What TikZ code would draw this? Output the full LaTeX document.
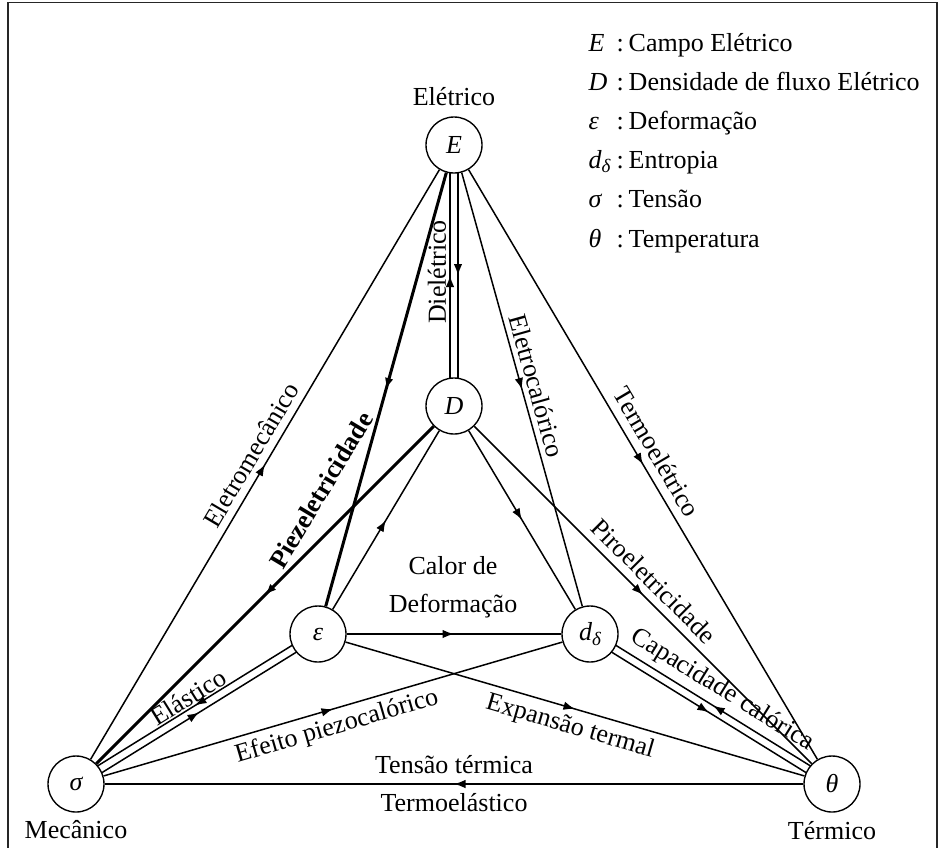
\documentclass[tikz,border=0pt]{standalone}
\usepackage{fontspec}
\setmainfont{Liberation Serif}
\usetikzlibrary{arrows.meta,decorations.markings,calc}

\newcommand\txtfont{\fontsize{10.4}{15}\selectfont}
\newcommand\legsep{:\hspace{2pt}}

\tikzset{
  var/.style={circle, draw, line width=0.55pt, minimum size=22.4pt, inner sep=0pt, font=\txtfont\itshape},
  lab/.style={inner sep=0pt, font=\txtfont},
  boldlab/.style={inner sep=0pt, font=\txtfont\bfseries},
  thinedge/.style={line width=0.6pt},
  thickedge/.style={line width=1.2pt},
  midarrow/.style={postaction={decorate}, decoration={markings,
      mark=at position 0.5 with {\arrow{Latex[length=4.6pt,width=3.4pt]}}}},
  clipends/.style={shorten <=11.1pt, shorten >=11.1pt},
  frameline/.style={line width=0.6pt, black!85},
}

\begin{document}
\begin{tikzpicture}[x=0.4pt, y=-0.4pt]
\useasboundingbox (0,0) rectangle (939,847);

% outer frame (open at the bottom)
\draw[frameline] (8,870) -- (8,2.5) -- (937,2.5) -- (937,870);

% state variables
\node[var] (E)   at (454,145) {E};
\node[var] (D)   at (454,406) {D};
\node[var] (eps) at (318,634) {ε};
\node[var] (ent) at (590,634) {d\raisebox{-0.35ex}{\fontsize{7.6}{8}\selectfont δ}};
\node[var] (sig) at (76,784)  {σ};
\node[var] (th)  at (832,784) {θ};

% domain names
\node[lab] (nElet) at (454,97)  {Elétrico};
\node[lab] (nMec)  at (76,830)  {Mecânico};
\node[lab] (nTer)  at (832,831) {Térmico};

% single couplings
\draw[thinedge, midarrow]  (sig) -- (E);
\draw[thickedge, midarrow] (E) -- (eps);
\draw[thinedge, midarrow]  (E) -- (ent);
\draw[thinedge, midarrow]  (E) -- (th);
\draw[thinedge, midarrow]  (eps) -- (D);
\draw[thickedge, midarrow] (D) -- (sig);
\draw[thinedge, midarrow]  (D) -- (ent);
\draw[thinedge, midarrow]  (D) -- (th);
\draw[thinedge, midarrow]  (eps) -- (ent);
\draw[thinedge, midarrow]  (eps) -- (th);
\draw[thinedge, midarrow]  (sig) -- (ent);
\draw[thinedge, midarrow]  (th) -- (sig);

% paired couplings (two parallel lines, opposite directions)
\draw[thinedge, midarrow, clipends] ($(E)!1.6pt!90:(D)$) -- ($(D)!1.6pt!-90:(E)$);
\draw[thinedge, midarrow, clipends] ($(D)!1.6pt!90:(E)$) -- ($(E)!1.6pt!-90:(D)$);

\draw[thinedge, midarrow, clipends] ($(eps)!1.6pt!-90:(sig)$) -- ($(sig)!1.6pt!90:(eps)$);
\draw[thinedge, midarrow, clipends] ($(sig)!1.6pt!-90:(eps)$) -- ($(eps)!1.6pt!90:(sig)$);

\draw[thinedge, midarrow, clipends] ($(ent)!1.6pt!-90:(th)$) -- ($(th)!1.6pt!90:(ent)$);
\draw[thinedge, midarrow, clipends] ($(th)!1.6pt!-90:(ent)$) -- ($(ent)!1.6pt!90:(th)$);

% effect names
\node[lab, rotate=59.4]   (lEmec)  at (251,455) {Eletromecânico};
\node[boldlab, rotate=59] (lPiez)  at (321,490) {Piezeletricidade};
\node[lab, rotate=90]     (lDiel)  at (437,272) {Dielétrico};
\node[lab, rotate=-74.4]  (lEcal)  at (537,386) {Eletrocalórico};
\node[lab, rotate=-59.4]  (lTele)  at (657,452) {Termoelétrico};
\node[lab, rotate=-45]    (lPiro)  at (654,581) {Piroeletricidade};
\node[lab, align=center]  (lCalor) at (453,587) {Calor de\\Deformação};
\node[lab, rotate=31.8]   (lElas)  at (188,697) {Elástico};
\node[lab, rotate=16.3]   (lEfei)  at (337,727) {Efeito piezocalórico};
\node[lab, rotate=-16.3]  (lExpa)  at (570,727) {Expansão termal};
\node[lab, rotate=-31.8]  (lCapa)  at (722,690) {Capacidade calórica};
\node[lab]                (lTens)  at (454,765) {Tensão térmica};
\node[lab]                (lTela)  at (454,803) {Termoelástico};

% legend
\node[lab, anchor=base west] (sE)  at (588,51)    {\itshape E};
\node[lab, anchor=base west] (tE)  at (616,51)    {\legsep Campo Elétrico};
\node[lab, anchor=base west] (sD)  at (588,90.2)  {\itshape D};
\node[lab, anchor=base west] (tD)  at (616,90.2)  {\legsep Densidade de fluxo Elétrico};
\node[lab, anchor=base west] (sEp) at (588,129.4) {\itshape ε};
\node[lab, anchor=base west] (tEp) at (616,129.4) {\legsep Deformação};
\node[lab, anchor=base west] (sDd) at (588,168.6) {\itshape d\raisebox{-0.35ex}{\fontsize{7.6}{8}\selectfont δ}};
\node[lab, anchor=base west] (tDd) at (616,168.6) {\legsep Entropia};
\node[lab, anchor=base west] (sSi) at (588,207.8) {\itshape σ};
\node[lab, anchor=base west] (tSi) at (616,207.8) {\legsep Tensão};
\node[lab, anchor=base west] (sTh) at (588,247)   {\itshape θ};
\node[lab, anchor=base west] (tTh) at (616,247)   {\legsep Temperatura};
\end{tikzpicture}
\end{document}
